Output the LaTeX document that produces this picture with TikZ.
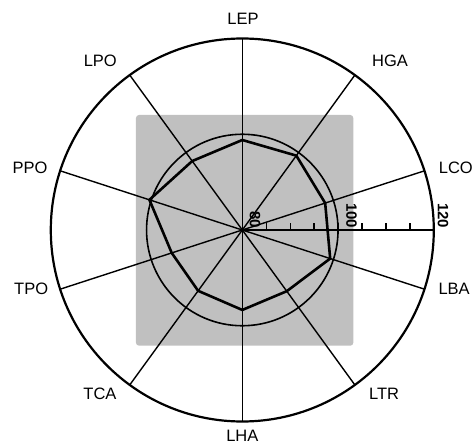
\documentclass[tikz,border=0pt]{standalone}
\usepackage{fontspec}
\setmainfont{Liberation Sans}
\definecolor{panelgray}{RGB}{192,192,192}

\begin{document}
\begin{tikzpicture}[x=1pt,y=1pt,
		spoke/.style={line width=1.4pt},
		ring/.style={line width=1.6pt},
		datapoly/.style={line width=2.6pt, line join=miter},
		axislabel/.style={font=\fontsize{16.5}{19}\selectfont, inner sep=0pt},
		scalelabel/.style={font=\fontsize{15}{17}\selectfont\bfseries, rotate=-90, anchor=base east, inner sep=0pt}]
		\useasboundingbox (-242.3,-214) rectangle (233.7,230);
		\fill[panelgray, rounded corners=3pt] (-106.3,-115.7) rectangle (111,115);
		\coordinate (c) at (0,0);
		
		% spokes, one per variable
		\foreach \a [count=\i] in {90,54,18,-18,-54,-90,-126,-162,162,126}
		{
			\coordinate (o\i) at (\a:191.5);
			\draw[spoke] (c) -- (o\i);
		}
		\draw[ring] (c) circle [radius=95.75];
		\draw[line width=2.2pt] (c) circle [radius=191.5];
		
		% scale axis
		\coordinate (s120) at (191.5,0);
		\draw[line width=1.6pt] (c) -- (s120);
		\foreach \t in {85,90,...,115}
			\draw[line width=1.3pt] ({(\t-80)*4.7875},0) -- ++(0,6.7);
		\node[scalelabel] (s80lab) at (7.5,1.7) {80};
		\node[scalelabel] (s100lab) at (104,1.7) {100};
		\node[scalelabel] (s120lab) at (195.5,1.7) {120};
		
		% profile
		\foreach \a/\v [count=\i] in {90/98.8,54/99.2,18/98.2,-18/99.3,-54/95.8,-90/96.7,-126/95.7,-162/95.5,162/100.4,126/97.8}
			\coordinate (p\i) at (\a:{(\v-80)*4.7875});
		\draw[datapoly] (p1) -- (p2) -- (p3) -- (p4) -- (p5) -- (p6) -- (p7) -- (p8) -- (p9) -- (p10) -- cycle;
		
		\node[axislabel] (lep) at (0.7,210.7) {LEP};
		\node[axislabel] (hga) at (147.7,169) {HGA};
		\node[axislabel] (lco) at (213.5,62.5) {LCO};
		\node[axislabel] (lba) at (211.8,-59) {LBA};
		\node[axislabel] (ltr) at (141.8,-164) {LTR};
		\node[axislabel] (lha) at (0,-205.5) {LHA};
		\node[axislabel] (tca) at (-142.3,-164) {TCA};
		\node[axislabel] (tpo) at (-211.1,-59) {TPO};
		\node[axislabel] (ppo) at (-212.3,62.5) {PPO};
		\node[axislabel] (lpo) at (-142,169.2) {LPO};
	\end{tikzpicture}
\end{document}
